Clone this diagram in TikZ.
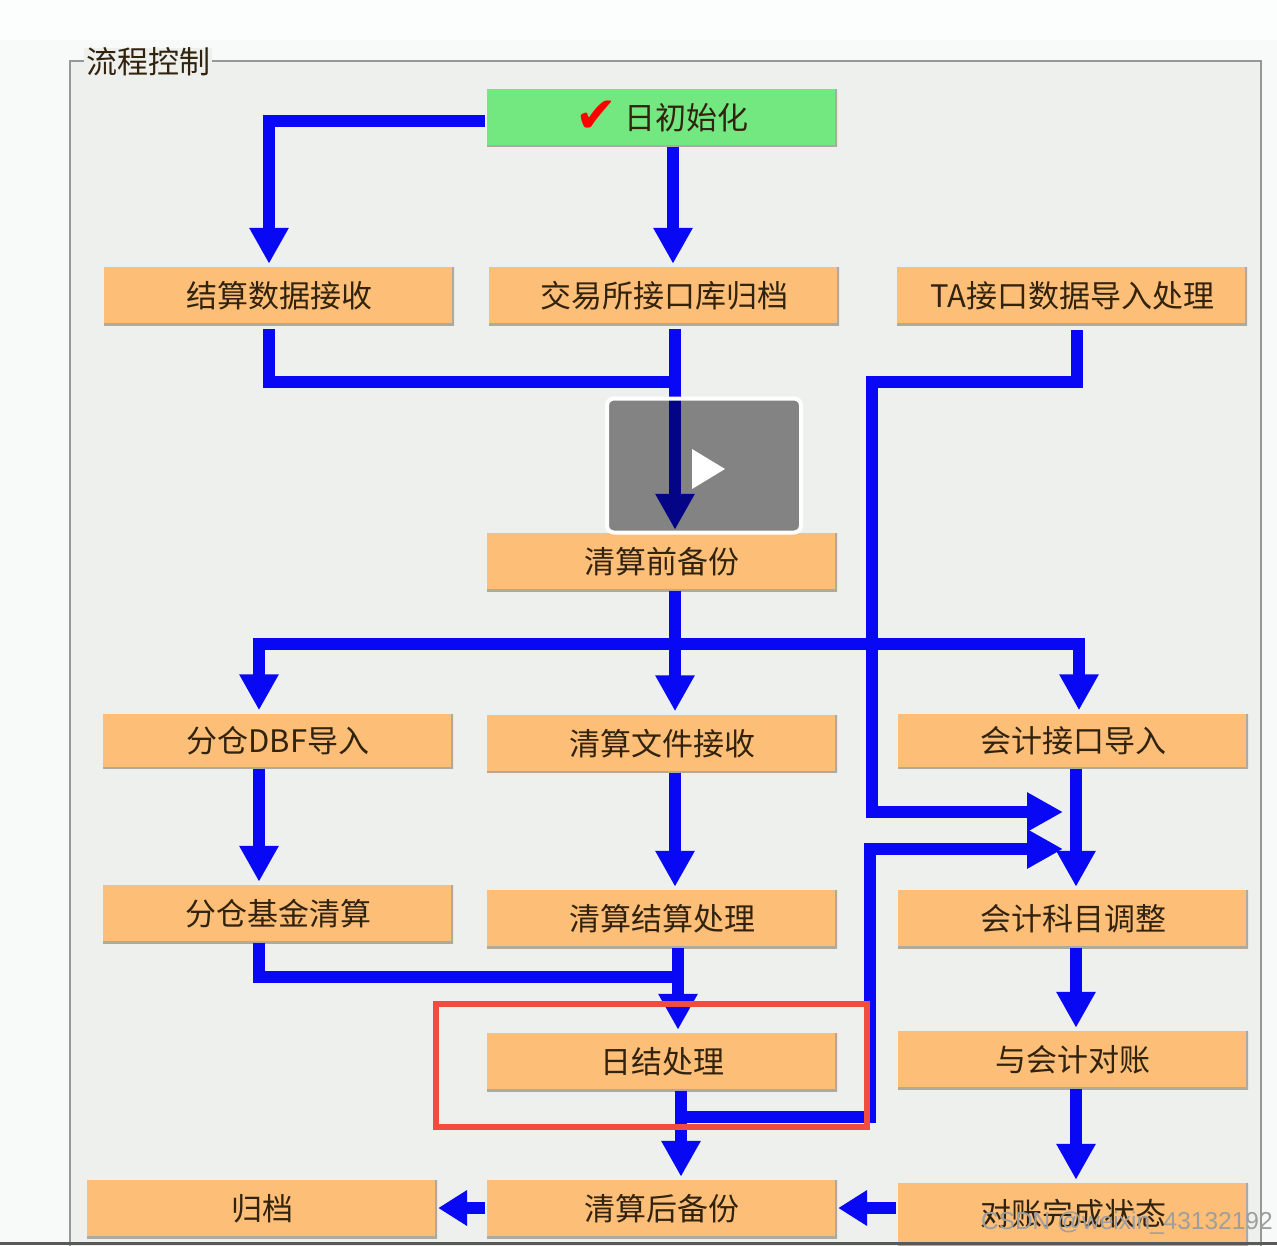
\documentclass[tikz,border=0pt]{standalone}
\usepackage{fontspec}
\setmainfont{Noto Sans CJK SC}
\newfontfamily\symfont{DejaVu Sans}
\newfontfamily\markfont{Liberation Sans}
\definecolor{flowBlue}{RGB}{8,8,245}
\definecolor{flowOrange}{RGB}{253,190,120}
\definecolor{flowGreen}{RGB}{116,232,128}
\definecolor{flowEdge}{RGB}{175,170,158}
\definecolor{flowPanel}{RGB}{238,240,238}
\definecolor{flowPage}{RGB}{248,249,249}
\definecolor{flowFrame}{RGB}{150,152,152}
\definecolor{flowRed}{RGB}{240,76,64}
\definecolor{flowText}{RGB}{50,35,15}
\usetikzlibrary{arrows.meta,positioning,calc}

\begin{document}
\begin{tikzpicture}[x=1pt,y=-1pt,
    procbox/.style={rectangle, fill=flowOrange, minimum width=350pt, minimum height=58pt,
               inner sep=0pt, font=\fontsize{31}{34}\selectfont, text=flowText,
               path picture={\draw[flowEdge, line width=3.5pt]
                 (path picture bounding box.south west) -- (path picture bounding box.south east)
                 -- (path picture bounding box.north east);}},
    flowline/.style={flowBlue, line width=12pt},
    flow/.style={flowline, -{Triangle[length=36pt, width=37pt]}, shorten >=3pt},
    flowback/.style={flowline, -{Triangle[length=29pt, width=34pt]}, shorten <=2pt, shorten >=1pt}
  ]
  \useasboundingbox (0,0) rectangle (1277,1245);
  \fill[flowPage] (0,0) rectangle (1277,1245);
  \fill[white!60!flowPage] (0,0) rectangle (1277,40);

  % panel
  \draw[flowFrame, line width=2pt, fill=flowPanel] (70,1250) -- (70,61) -- (1261,61) -- (1261,1250);
  \node[fill=flowPanel, inner xsep=2pt, inner ysep=0pt, font=\fontsize{31}{34}\selectfont, text=flowText] (title) at (148,62) {流程控制};

  % boxes
  \node[procbox, fill=flowGreen] (init) at (662,117.5) {\raisebox{-3pt}[0pt][0pt]{\symfont\fontsize{50}{50}\selectfont\color{red}✔}\hspace{8pt}日初始化};
  \node[procbox] (settle)  at (279,296) {结算数据接收};
  \node[procbox] (bourse)  at (664,296) {交易所接口库归档};
  \node[procbox] (taimp)   at (1072,296) {TA接口数据导入处理};
  \node[procbox] (prebak)  at (662,562) {清算前备份};
  \node[procbox, minimum height=55pt] (dbfimp)  at (278,741) {分仓DBF导入};
  \node[procbox] (clrfile) at (662,743.5) {清算文件接收};
  \node[procbox, minimum height=55pt] (acctimp) at (1073,741) {会计接口导入};
  \node[procbox] (fundclr) at (278,914) {分仓基金清算};
  \node[procbox] (clrproc) at (662,919) {清算结算处理};
  \node[procbox] (acctadj) at (1073,919) {会计科目调整};
  \node[procbox] (dayend)  at (662,1062) {日结处理};
  \node[procbox] (acctchk) at (1073,1060) {与会计对账};
  \node[procbox] (archive) at (262,1209) {归档};
  \node[procbox] (postbak) at (662,1209) {清算后备份};
  \node[procbox, minimum height=62pt] (chkdone) at (1073,1214) {对账完成状态};

  % junctions
  \coordinate (mergeA) at (675,382);
  \coordinate (busL)   at (259,644);
  \coordinate (busM)   at (675,644);
  \coordinate (busR)   at (1079,644);
  \coordinate (inTa)   at (1066,812);
  \coordinate (inDay)  at (1066,849);

  % top
  \draw[flow, shorten <=2pt] ([yshift=-3pt]init.west) -| ([xshift=-10pt]settle.north);
  \draw[flow] (init.south -| 673,0) -- (bourse.north -| 673,0);
  \draw[flowline, shorten <=4pt] ([xshift=-10pt]settle.south) |- (mergeA);
  \draw[flow, shorten <=4pt] (bourse.south -| mergeA) -- (prebak.north -| mergeA);
  \draw[flow, shorten <=5pt] (taimp.south -| 1077,0) |- (872,382) -- (872,812) -- (inTa);

  % middle
  \draw[flow] (prebak.south -| busM) -- (clrfile.north -| busM);
  \draw[flow] (busM) -| ([xshift=-19pt]dbfimp.north);
  \draw[flow] (busM) -| ([xshift=6pt]acctimp.north);
  \draw[flow] ([xshift=-19pt]dbfimp.south) -- ([xshift=-19pt]fundclr.north);
  \draw[flow] (clrfile.south -| busM) -- (clrproc.north -| busM);
  \draw[flow] ([xshift=3pt]acctimp.south) -- ([xshift=3pt]acctadj.north);

  % bottom
  \draw[flowline] ([xshift=-19pt]fundclr.south) |- (678,977);
  \draw[flow] ([xshift=16pt]clrproc.south) -- ([xshift=16pt]dayend.north);
  \draw[flow] ([xshift=19pt]dayend.south) -- ([xshift=19pt]postbak.north);
  \draw[flow] (681,1117) -| (870,849) -- (inDay);
  \draw[flow] ([xshift=3pt]acctadj.south) -- ([xshift=3pt]acctchk.north);
  \draw[flow] ([xshift=3pt]acctchk.south) -- ([xshift=3pt]chkdone.north);
  \draw[flowback] (chkdone.west |- 0,1208) -- (postbak.east |- 0,1208);
  \draw[flowback] (postbak.west |- 0,1208) -- (archive.east |- 0,1208);

  % marks over the picture
  \node[draw=flowRed, line width=5.5pt, minimum width=431pt, minimum height=123pt, inner sep=0pt] (redbox) at (651.5,1065.5) {};
  \node[font=\markfont\fontsize{24.5}{28}\selectfont, text=black!38, inner sep=0pt, anchor=east] (mark) at (1273,1223) {CSDN @weixin\_43132192};
  \fill[black!65] (0,1242) rectangle (1277,1245);

  \node[draw=white, line width=4pt, rounded corners=7pt, fill=black, fill opacity=.45, draw opacity=1,
        minimum width=194pt, minimum height=134pt, inner sep=0pt] (player) at (704,465.5) {};
  \fill[white] (692,449) -- (725,469) -- (692,489) -- cycle;
\end{tikzpicture}
\end{document}
